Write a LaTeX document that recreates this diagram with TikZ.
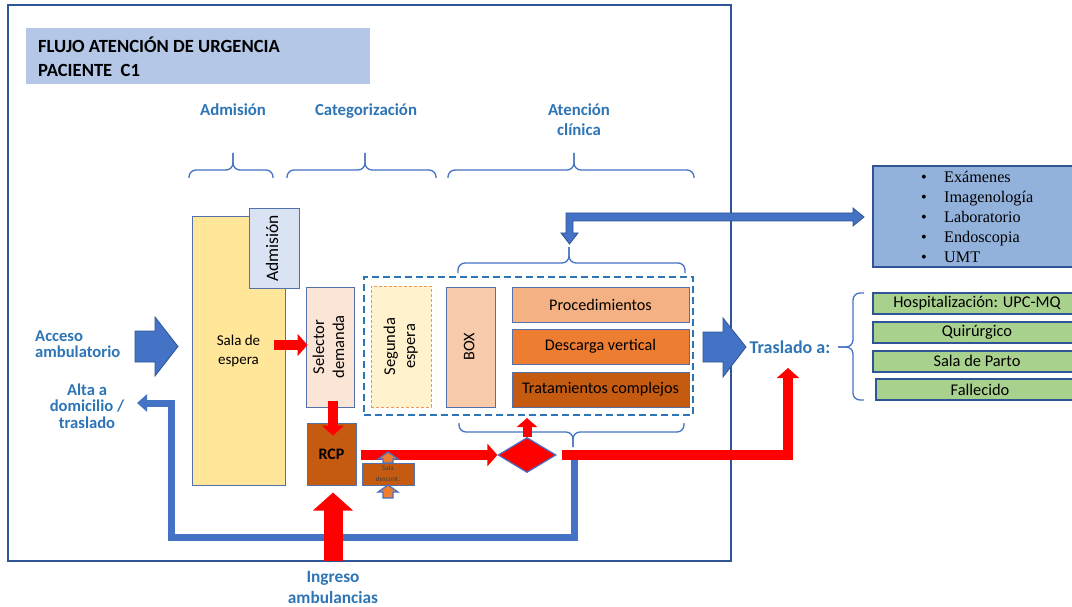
\documentclass[tikz,border=0pt]{standalone}
\usepackage{fontspec}
\usepackage{graphicx}
\setmainfont{Carlito}
\newfontfamily\listfont{Liberation Serif}
\usetikzlibrary{arrows.meta,shapes.geometric,calc}

\definecolor{framec}{RGB}{47,85,151}
\definecolor{lineb}{RGB}{68,114,196}
\definecolor{headc}{RGB}{46,117,182}
\definecolor{titlebg}{RGB}{180,199,231}
\definecolor{salaY}{RGB}{255,230,153}
\definecolor{admbg}{RGB}{218,227,243}
\definecolor{selbg}{RGB}{251,229,214}
\definecolor{segbg}{RGB}{255,242,204}
\definecolor{segline}{RGB}{244,150,80}
\definecolor{boxbg}{RGB}{248,203,173}
\definecolor{procbg}{RGB}{244,177,131}
\definecolor{descbg}{RGB}{237,125,49}
\definecolor{tratbg}{RGB}{197,90,17}
\definecolor{exambg}{RGB}{146,178,220}
\definecolor{greenbg}{RGB}{169,209,142}
\definecolor{dashc}{RGB}{46,117,182}
\definecolor{boxline}{RGB}{84,112,170}

\newcommand\setfs[2]{\fontsize{#1}{#2}\selectfont}
\newcommand\vtext[1]{\rotatebox{90}{\begin{tabular}{@{}c@{}}#1\end{tabular}}}

\begin{document}
\begin{tikzpicture}[x=1pt,y=-1pt,
  box/.style={draw=boxline, line width=1pt, inner sep=0pt, align=center, font=\setfs{16.2}{19}},
  gbox/.style={draw=framec, line width=2pt, fill=greenbg, minimum width=208pt, minimum height=21pt, inner sep=0pt, font=\setfs{16.4}{19}},
  hdr/.style={text=headc, font=\bfseries\setfs{16.8}{20}, align=center},
  brc/.style={draw=lineb, line width=1.3pt, rounded corners=7pt},
  redmid/.style={draw=red, line width=10pt, line join=miter, -{Triangle[width=22pt,length=10pt]}},
  redsmall/.style={draw=red, line width=9pt, -{Triangle[width=20pt,length=9pt]}},
  redbig/.style={draw=red, line width=19pt, -{Triangle[width=39pt,length=18pt]}},
  bluepath/.style={draw=lineb, line width=7pt, line join=miter, -{Triangle[width=17pt,length=10pt]}},
  blockblue/.style={fill=lineb, draw=framec, line width=0.8pt, line join=miter},
  smallup/.style={fill=descbg, draw=lineb, line width=1.2pt, line join=miter}]

\clip (0,0) rectangle (1072,607);
\fill[white] (0,0) rectangle (1072,607);

% outer frame and title
\draw[framec, line width=1.5pt] (8,5) rectangle (731,561);
\node[fill=titlebg, minimum width=344pt, minimum height=56pt, inner sep=0pt] (tbg) at (198,56) {};
\node[anchor=west, align=left, inner sep=0pt, font=\bfseries\setfs{18.6}{24}] (title) at (38,57) {FLUJO ATENCIÓN DE URGENCIA\\PACIENTE\ \ C1};

% stage headers
\node[hdr] (h1) at (233,110) {Admisión};
\node[hdr] (h2) at (366,111) {Categorización};
\node[hdr] (h3) at (579,120) {Atención\\clínica};

% stage braces
\draw[brc] (189,178) |- (233,170) -- (233,153);
\draw[brc] (273,178) |- (233,170) -- (233,153);
\draw[brc] (287,178) |- (365,170) -- (365,153);
\draw[brc] (436,178) |- (365,170) -- (365,153);
\draw[brc] (448,178) |- (574,170) -- (574,153);
\draw[brc] (694,178) |- (574,170) -- (574,153);

% waiting and triage
\node[box, fill=salaY, minimum width=93pt, minimum height=268pt, font=\setfs{15}{18.5}] (sala) at (238.5,351) {Sala de\\espera};
\node[box, fill=admbg, minimum width=50pt, minimum height=79pt, font=\setfs{17.5}{20}] (adm) at (274,248.5) {\vtext{Admisión}};
\node[box, fill=selbg, minimum width=48pt, minimum height=120pt, font=\setfs{16.5}{20}] (sel) at (330,347) {\vtext{Selector\\demanda}};
\node[box, fill=tratbg, minimum width=49pt, minimum height=62pt, font=\bfseries\setfs{16}{18}] (rcp) at (331.5,454) {RCP};
\node[box, fill=tratbg, minimum width=52pt, minimum height=22pt, font=\setfs{7}{11}, text=black!75] (descont) at (388,474) {Sala\\descont.};

% clinical care area
\node[draw=dashc, line width=2pt, dash pattern=on 7pt off 4pt, minimum width=329pt, minimum height=138pt, inner sep=0pt] (dbox) at (528.5,346) {};
\node[box, fill=segbg, draw=segline, dash pattern=on 3pt off 2pt, minimum width=60pt, minimum height=121pt, font=\setfs{16.5}{20}] (seg) at (401,346.5) {\vtext{Segunda\\espera}};
\node[box, fill=boxbg, minimum width=49pt, minimum height=120pt] (boxn) at (470.5,347) {\vtext{BOX}};
\node[box, fill=procbg, minimum width=177pt, minimum height=35pt] (proc) at (600.5,304.5) {Procedimientos};
\node[box, fill=descbg, minimum width=177pt, minimum height=35pt] (desc) at (600.5,346.5) {Descarga vertical};
\node[box, fill=tratbg, minimum width=177pt, minimum height=35pt] (trat) at (600.5,389.5) {Tratamientos complejos};
\node[diamond, draw=lineb, fill=red, line width=1.2pt, minimum width=58pt, minimum height=35pt, inner sep=0pt, aspect=1.66] (dia) at (527,455) {};

% braces around the care area
\draw[brc] (458,273) |- (569,263) -- (569,247);
\draw[brc] (685,273) |- (569,263) -- (569,247);
\draw[brc] (459,423) |- (573,432) -- (573,447);
\draw[brc] (684,423) |- (573,432) -- (573,447);

% support services
\node[draw=framec, line width=2pt, fill=exambg, minimum width=218pt, minimum height=101pt, inner sep=0pt] (exam) at (982,216.5) {};
\node[anchor=west, align=left, inner sep=0pt, font=\listfont\setfs{16.2}{20}] (list) at (921,216.5)
  {\makebox[23pt][l]{•}Exámenes\\\makebox[23pt][l]{•}Imagenología\\\makebox[23pt][l]{•}Laboratorio\\\makebox[23pt][l]{•}Endoscopia\\\makebox[23pt][l]{•}UMT};

% destinations
\node[gbox] (hosp) at (977,303.5) {Hospitalización: UPC-MQ};
\node[gbox] (quir) at (977,332.5) {Quirúrgico};
\node[gbox] (parto) at (977,361) {Sala de Parto};
\node[gbox] (fall) at (980,389.5) {Fallecido};
\draw[brc] (864,293) -| (853,347) -- (838,347);
\draw[brc] (864,400) -| (853,347) -- (838,347);

% side labels
\node[hdr, anchor=west, align=left, font=\bfseries\setfs{16.6}{16.5}, inner sep=0pt] (acc) at (35,344) {Acceso\\ambulatorio};
\node[hdr, font=\bfseries\setfs{16.6}{16.5}, inner sep=0pt] (alta) at (87,406) {Alta a\\domicilio /\\traslado};
\node[hdr, font=\bfseries\setfs{17.3}{21}, inner sep=0pt] (ingr) at (333,587) {Ingreso\\ambulancias};
\node[hdr, inner sep=0pt, font=\bfseries\setfs{18}{20}] (tras) at (790,347) {Traslado a:};

\coordinate (ret) at (574,455);
\coordinate (altain) at (137,403);
\coordinate (trasin) at (788,368);

% discharge return path
\draw[bluepath] (ret) |- (171,537) |- (altain);

% block arrows in and out
\draw[blockblue] (135,331) -- (155,331) -- (155,317) -- (178,346.5) -- (155,376) -- (155,362) -- (135,362) -- cycle;
\draw[blockblue] (703,332) -- (723,332) -- (723,318) -- (746,347) -- (723,377) -- (723,362) -- (703,362) -- cycle;
\draw[blockblue] (566,213) -- (853,213) -- (853,208) -- (864,217) -- (853,226) -- (853,221)
  -- (573,221) -- (573,233) -- (578,233) -- (569.5,244) -- (561,233) -- (566,233) -- cycle;

% patient flow
\draw[redmid] ($(sala.east)+(-12,-6)$) -- ($(sel.west)+(2,-2)$);
\draw[redmid] ($(sel.south)+(3,-7)$) -- ($(rcp.north)+(1.5,13)$);
\draw[redmid] ($(rcp.east)+(4,1)$) -- (dia.west);
\draw[redsmall] (dia.north) -- ($(dia.north |- dbox.south)+(0,2)$);
\draw[redmid] ($(dia.east)+(5,0)$) -| (trasin);
\draw[redbig] ($(ingr.north)+(0,-10)$) -- ($(rcp.south)+(1.5,7)$);

% small inflow arrows of the decontamination room
\draw[smallup] (388,452) -- (398,459) -- (393,459) -- (393,463) -- (383,463) -- (383,459) -- (378,459) -- cycle;
\draw[smallup] (388,485) -- (398,492) -- (393,492) -- (393,498) -- (383,498) -- (383,492) -- (378,492) -- cycle;
\end{tikzpicture}
\end{document}
